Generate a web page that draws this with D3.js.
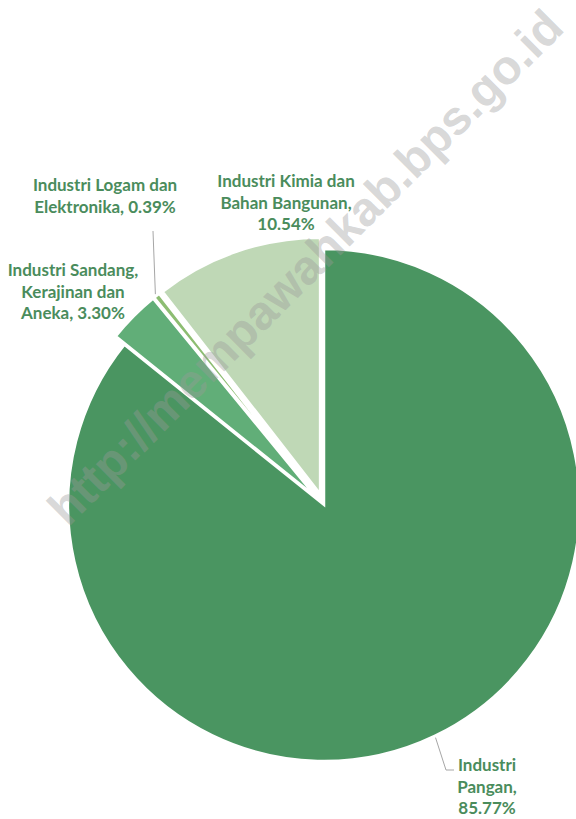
<!DOCTYPE html>
<html>
<head>
<meta charset="utf-8">
<script src="https://cdn.jsdelivr.net/npm/d3@7"></script>
<style>
  html, body { margin: 0; padding: 0; background: #fff; }
  svg { display: block; }
</style>
</head>
<body>
<div id="chart"></div>
<script>
// Data
var categories = ["Industri Pangan", "Industri Sandang, Kerajinan dan Aneka", "Industri Logam dan Elektronika", "Industri Kimia dan Bahan Bangunan"];
var values = [85.77, 3.30, 0.39, 10.54];
var labelLines = [
  ["Industri", "Pangan,", "85.77%"],
  ["Industri Sandang,", "Kerajinan dan", "Aneka, 3.30%"],
  ["Industri Logam dan", "Elektronika, 0.39%"],
  ["Industri Kimia dan", "Bahan Bangunan,", "10.54%"]
];

var width = 576, height = 819;
var cx = 324, cy = 505, radius = 256;
var colors = ["#4a9561", "#61ae78", "#8dbd72", "#bfd8b6"];
var explode = [0, 12, 12, 12];
// label anchor (centre x, first line y)
var labelPos = [[487, 771], [73, 276], [105, 191], [286, 187]];
var lineGap = 21.5;

var svg = d3.select("#chart")
  .append("svg")
  .attr("width", width)
  .attr("height", height);

svg.append("rect").attr("width", width).attr("height", height).attr("fill", "#fff");

var pie = d3.pie().sort(null).value(function(d) { return d; });
var arcs = pie(values);
var arc = d3.arc().innerRadius(0).outerRadius(radius);

var g = svg.append("g").attr("transform", "translate(" + cx + "," + cy + ")");

function offset(d, i, r) {
  var a = (d.startAngle + d.endAngle) / 2;
  return [Math.sin(a) * r, -Math.cos(a) * r];
}

// Slices
g.selectAll("path.slice")
  .data(arcs)
  .enter()
  .append("path")
  .attr("class", "slice")
  .attr("transform", function(d, i) {
    var o = offset(d, i, explode[i]);
    return "translate(" + o[0] + "," + o[1] + ")";
  })
  .attr("d", arc)
  .attr("fill", function(d, i) { return colors[i]; })
  .attr("stroke", "#fff")
  .attr("stroke-width", 2.5)
  .attr("stroke-linejoin", "miter");

// Leader lines (Pangan and Logam)
var leader = d3.line();
var p0 = offset(arcs[0], 0, radius + 2);
g.append("path")
  .attr("d", leader([p0, [446 - cx, 770 - cy], [454 - cx, 770 - cy]]))
  .attr("fill", "none")
  .attr("stroke", "#a6a6a6")
  .attr("stroke-width", 1);

var o2 = offset(arcs[2], 2, explode[2]);
var p2 = offset(arcs[2], 2, radius + 2);
g.append("path")
  .attr("d", leader([[o2[0] + p2[0], o2[1] + p2[1]], [153 - cx, 231 - cy]]))
  .attr("fill", "none")
  .attr("stroke", "#a6a6a6")
  .attr("stroke-width", 1);

// Labels
var labels = svg.append("g")
  .attr("font-family", "Lato, 'Open Sans', sans-serif")
  .attr("font-weight", "bold")
  .attr("font-size", "17px")
  .attr("fill", "#4a8c5c")
  .attr("text-anchor", "middle");

labelLines.forEach(function(lines, i) {
  var t = labels.append("text")
    .attr("x", labelPos[i][0])
    .attr("y", labelPos[i][1]);
  lines.forEach(function(line, j) {
    t.append("tspan")
      .attr("x", labelPos[i][0])
      .attr("dy", j === 0 ? 0 : lineGap)
      .text(line);
  });
});

// Watermark
svg.append("text")
  .attr("transform", "translate(308,270) rotate(-45)")
  .attr("text-anchor", "middle")
  .attr("dominant-baseline", "middle")
  .attr("font-family", "'Liberation Sans', Arial, sans-serif")
  .attr("font-weight", "bold")
  .attr("font-size", "48px")
  .attr("fill", "#9a9a9a")
  .attr("fill-opacity", 0.4)
  .text("http://mempawahkab.bps.go.id");
</script>
</body>
</html>
